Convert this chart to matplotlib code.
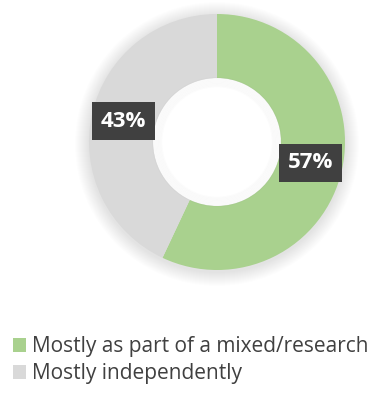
import numpy as np
import matplotlib.pyplot as plt
from matplotlib.patches import Patch, Circle

# data
labels = ['Mostly as part of a mixed/research', 'Mostly independently']
values = [57, 43]
colors = ['#A9D18E', '#D9D9D9']

plt.rcParams['font.family'] = ['Open Sans', 'DejaVu Sans']

fig = plt.figure(figsize=(3.70, 4.01), dpi=100)
ax = fig.add_axes([0, 0, 1, 1])
ax.set_aspect('equal')
ax.axis('off')

cx, cy, R = 217, 259, 128

# soft shadow around the ring
for i in range(14):
    ax.add_patch(Circle((cx, cy - 2), R + 14 - i, color='black', alpha=0.008, lw=0, zorder=0))
ax.add_patch(Circle((cx, cy), R * 0.5, color='white', lw=0, zorder=1))

wedges, texts, autotexts = ax.pie(values, colors=colors, startangle=90, counterclock=False,
                                  radius=R, center=(cx, cy), autopct='%d%%', pctdistance=0.75,
                                  wedgeprops=dict(width=R * 0.5, linewidth=0),
                                  textprops=dict(color='white', fontsize=16, fontweight='bold'))
ax.set_xlim(0, 370)
ax.set_ylim(0, 401)
for w in wedges:
    w.set_zorder(2)
for t in autotexts:
    t.set_zorder(5)
    t.set_bbox(dict(boxstyle='square,pad=0.4', facecolor='#404040', edgecolor='none'))

# faint inner shadow at the edge of the hole
for i in range(8):
    ax.add_patch(Circle((cx, cy), R * 0.5 - i * 1.2, fill=False, edgecolor='black',
                        lw=1.5, alpha=0.012, zorder=3))

handles = [Patch(facecolor=c, edgecolor='none') for c in colors]
fig.legend(handles, labels, loc='upper left', bbox_to_anchor=(0.0, 0.193), frameon=False,
           fontsize=15, handlelength=0.65, handleheight=0.65, handletextpad=0.3,
           labelspacing=0.3, labelcolor='#404040', borderaxespad=0.2)

plt.savefig('out.png', dpi=100)
